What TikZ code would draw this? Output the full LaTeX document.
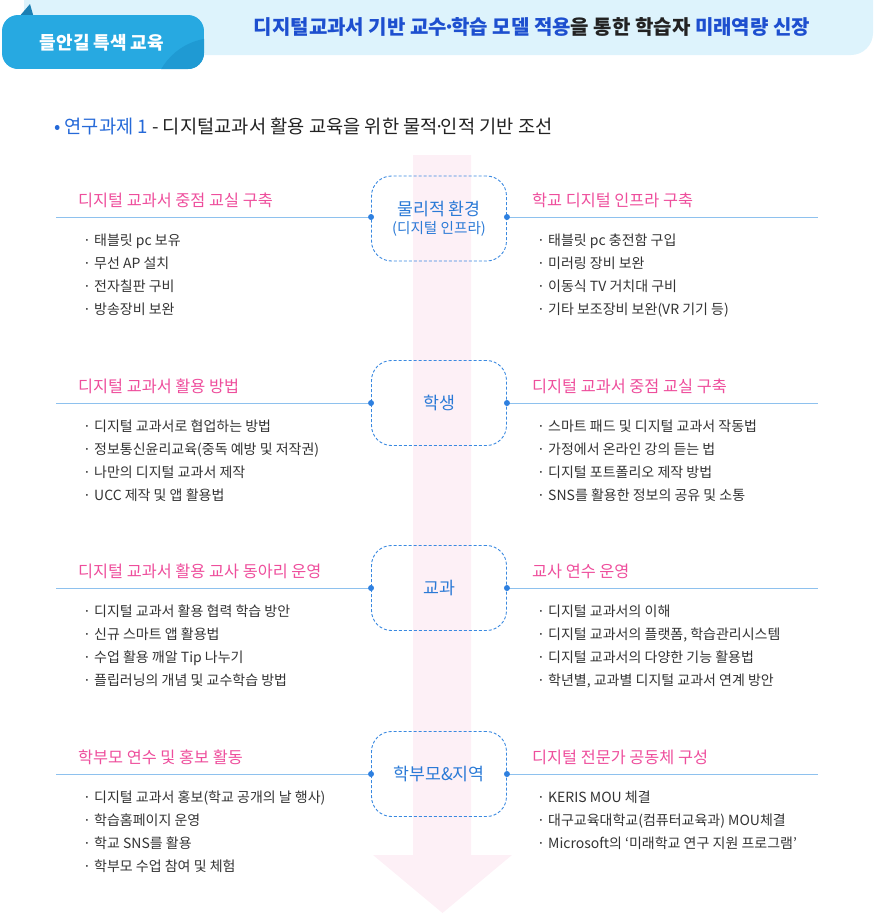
\documentclass[tikz,border=0pt]{standalone}
\usepackage{fontspec}
\setmainfont{Noto Sans CJK KR}
\definecolor{barblue}{HTML}{DDF3FC}
\definecolor{tabblue}{HTML}{27A9E1}
\definecolor{tabdark}{HTML}{1F9AD3}
\definecolor{folddark}{HTML}{1B7FB3}
\definecolor{titleblue}{HTML}{1D4FCF}
\definecolor{titledark}{HTML}{222222}
\definecolor{subblue}{HTML}{2569D8}
\definecolor{arrowpink}{HTML}{FDF0F6}
\definecolor{hubline}{HTML}{3A89E0}
\definecolor{hubtext}{HTML}{2B7AD6}
\definecolor{topicpink}{HTML}{EE4E9C}
\definecolor{linkblue}{HTML}{8EC1EE}
\definecolor{dotblue}{HTML}{2E80E0}
\definecolor{itemgray}{HTML}{333333}

\begin{document}
\begin{tikzpicture}[x=1pt, y=-1pt,
    hub/.style = {draw=hubline, dash pattern=on 3pt off 2pt, line width=0.9pt, rounded corners=20pt,
      minimum width=135pt, minimum height=85pt, text=hubtext, align=center, font=\fontsize{17.3}{20}\selectfont},
    topic/.style = {anchor=base west, inner sep=0pt, text=topicpink, font=\fontsize{16.3}{18}\selectfont},
    item/.style = {anchor=base west, inner sep=0pt, text=itemgray, font=\fontsize{14}{16}\selectfont},
    link/.style = {draw=linkblue, line width=0.8pt}]
    \useasboundingbox (0,0) rectangle (875,914);

    % pink arrow behind everything
    \fill[arrowpink] (413,155) -- (471,155) -- (471,855) -- (512,855) -- (442.5,913)
      -- (373,855) -- (413,855) -- cycle;

    % header
    \fill[barblue, rounded corners=22pt] (24,-30) rectangle (873,55);
    \fill[folddark] (18,18) -- (30,4) -- (34,18) -- cycle;
    \begin{scope}
      \clip[rounded corners=16pt] (2,15) rectangle (204,69);
      \fill[tabblue] (2,15) rectangle (204,69);
      \fill[tabdark] (215,100) circle (62pt);
    \end{scope}
    \node[text=white, font=\bfseries\fontsize{18}{20}\selectfont] (tab) at (102,43) {들안길 특색 교육};
    \node[text=titleblue, font=\bfseries\fontsize{20}{22}\selectfont] (title) at (532,27)
      {디지털교과서 기반 교수\kern-0.2em·\kern-0.2em학습 모델 적용{\color{titledark}을 통한 학습자} 미래역량 신장};

    \node[anchor=base west, inner sep=0pt, text=titledark, font=\fontsize{18.7}{20}\selectfont] (task) at (54,133.5)
      {{\color{subblue}• 연구과제 1} - 디지털교과서 활용 교육을 위한 물적\kern-0.2em·\kern-0.2em인적 기반 조선};

    % hubs
    \node[hub] (h1) at (439,218.5) {물리적 환경\\[-2pt]{\fontsize{14.6}{20}\selectfont (디지털 인프라)}};
    \node[hub] (h2) at (439,403) {학생};
    \node[hub] (h3) at (439,588) {교과};
    \node[hub] (h4) at (439,774) {학부모\&지역};

    % free ends of the lines
    \coordinate (a1) at (56,217); \coordinate (b1) at (818,217);
    \coordinate (a2) at (56,403); \coordinate (b2) at (818,403);
    \coordinate (a3) at (56,588); \coordinate (b3) at (818,588);
    \coordinate (a4) at (56,774); \coordinate (b4) at (818,774);

    \foreach \k in {1,2,3,4} {
      \draw[link] (a\k) -- (a\k -| h\k.west);
      \draw[link] (b\k -| h\k.east) -- (b\k);
      \fill[dotblue] (a\k -| h\k.west) circle (3pt);
      \fill[dotblue] (b\k -| h\k.east) circle (3pt);
    }

    % section 1
    \node[topic] (t1l) at (78,206) {디지털 교과서 중점 교실 구축};
    \node[topic] (t1r) at (532,206) {학교 디지털 인프라 구축};
    \foreach \t [count=\k] in {태블릿 pc 보유, 무선 AP 설치, 전자칠판 구비, 방송장비 보완}
      \node[item] (i1l-\k) at (83,222+23*\k) {· \t};
    \foreach \t [count=\k] in {태블릿 pc 충전함 구입, 미러링 장비 보완, 이동식 TV 거치대 구비, 기타 보조장비 보완(VR 기기 등)}
      \node[item] (i1r-\k) at (537,222+23*\k) {· \t};

    % section 2
    \node[topic] (t2l) at (78,392) {디지털 교과서 활용 방법};
    \node[topic] (t2r) at (532,392) {디지털 교과서 중점 교실 구축};
    \foreach \t [count=\k] in {디지털 교과서로 협업하는 방법, 정보통신윤리교육(중독 예방 및 저작권), 나만의 디지털 교과서 제작, UCC 제작 및 앱 활용법}
      \node[item] (i2l-\k) at (83,408+23*\k) {· \t};
    \foreach \t [count=\k] in {스마트 패드 및 디지털 교과서 작동법, 가정에서 온라인 강의 듣는 법, 디지털 포트폴리오 제작 방법, SNS를 활용한 정보의 공유 및 소통}
      \node[item] (i2r-\k) at (537,408+23*\k) {· \t};

    % section 3
    \node[topic] (t3l) at (78,577) {디지털 교과서 활용 교사 동아리 운영};
    \node[topic] (t3r) at (532,577) {교사 연수 운영};
    \foreach \t [count=\k] in {디지털 교과서 활용 협력 학습 방안, 신규 스마트 앱 활용법, 수업 활용 깨알 Tip 나누기, 플립러닝의 개념 및 교수학습 방법}
      \node[item] (i3l-\k) at (83,593+23*\k) {· \t};
    \foreach \t [count=\k] in {디지털 교과서의 이해, {디지털 교과서의 플랫폼, 학습관리시스템}, 디지털 교과서의 다양한 기능 활용법, {학년별, 교과별 디지털 교과서 연계 방안}}
      \node[item] (i3r-\k) at (537,593+23*\k) {· \t};

    % section 4
    \node[topic] (t4l) at (78,763) {학부모 연수 및 홍보 활동};
    \node[topic] (t4r) at (532,763) {디지털 전문가 공동체 구성};
    \foreach \t [count=\k] in {디지털 교과서 홍보(학교 공개의 날 행사), 학습홈페이지 운영, 학교 SNS를 활용, 학부모 수업 참여 및 체험}
      \node[item] (i4l-\k) at (83,779+23*\k) {· \t};
    \foreach \t [count=\k] in {KERIS MOU 체결, 대구교육대학교(컴퓨터교육과) MOU체결, Microsoft의 ‘미래학교 연구 지원 프로그램’}
      \node[item] (i4r-\k) at (537,779+23*\k) {· \t};
\end{tikzpicture}
\end{document}
